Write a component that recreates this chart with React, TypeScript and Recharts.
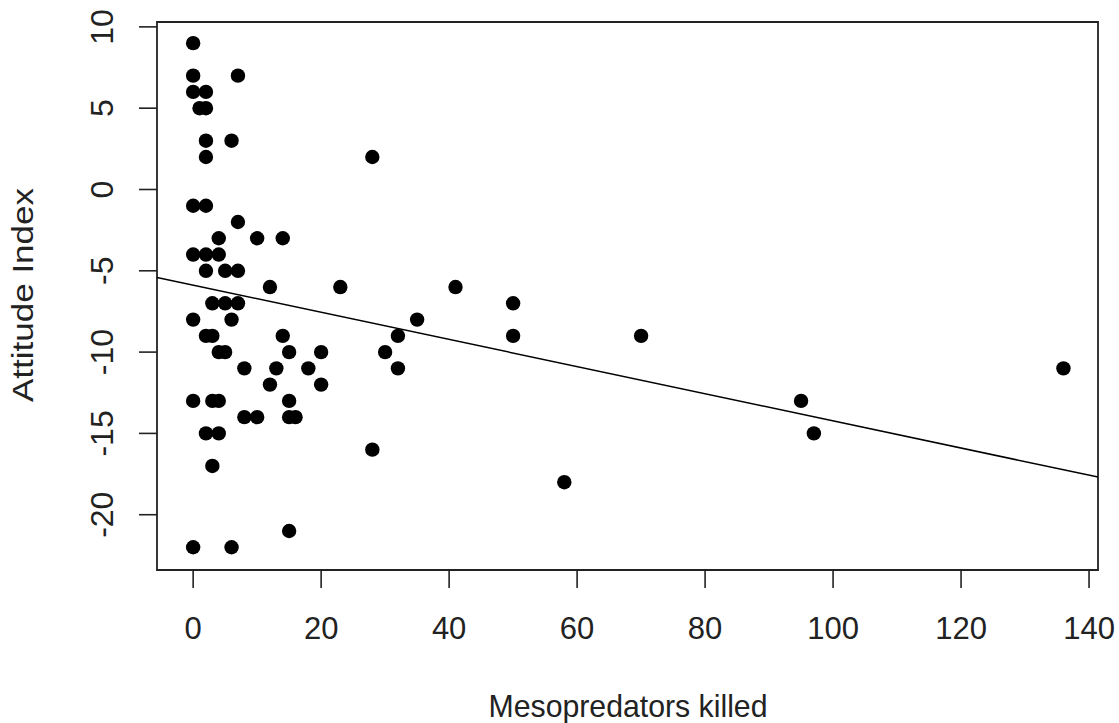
import React from "react";
import {
  ScatterChart,
  Scatter,
  XAxis,
  YAxis,
  ReferenceLine,
  ReferenceArea,
} from "recharts";

// Mesopredators killed (x) and Attitude Index (y)
const killed: number[] = [
  0, 0, 7, 0, 2, 1, 2, 2, 6, 2, 0, 2, 7, 4, 10, 14, 0, 2, 4, 2, 5, 7, 12, 23,
  3, 5, 7, 0, 6, 2, 3, 14, 4, 5, 15, 20, 8, 13, 18, 12, 20, 0, 3, 4, 15, 8, 10,
  15, 16, 2, 4, 3, 15, 0, 6, 28, 35, 32, 30, 32, 28, 41, 50, 50, 58, 70, 95, 97,
  136,
];
const attitude: number[] = [
  9, 7, 7, 6, 6, 5, 5, 3, 3, 2, -1, -1, -2, -3, -3, -3, -4, -4, -4, -5, -5, -5,
  -6, -6, -7, -7, -7, -8, -8, -9, -9, -9, -10, -10, -10, -10, -11, -11, -11,
  -12, -12, -13, -13, -13, -13, -14, -14, -14, -14, -15, -15, -17, -21, -22,
  -22, 2, -8, -9, -10, -11, -16, -6, -7, -9, -18, -9, -13, -15, -11,
];

const xTicks: number[] = [0, 20, 40, 60, 80, 100, 120, 140];
const yTicks: number[] = [-20, -15, -10, -5, 0, 5, 10];

// fitted regression line
const fitIntercept = -5.88;
const fitSlope = -0.0835;

const xDomain: [number, number] = [-5.65, 141.4];
const yDomain: [number, number] = [-23.4, 10.3];

const points = killed.map((k, i) => ({ x: k, y: attitude[i] }));

const FONT = "'Liberation Sans', Arial, sans-serif";
const INK = "#222";

const XTick = (props: any) => {
  const { x, y, payload } = props;
  return (
    <g>
      <line x1={x} y1={y} x2={x} y2={y + 18} stroke={INK} strokeWidth={1.6} />
      <text
        x={x}
        y={y + 69}
        textAnchor="middle"
        fontSize={31}
        fontFamily={FONT}
        fill={INK}
      >
        {payload.value}
      </text>
    </g>
  );
};

const YTick = (props: any) => {
  const { x, y, payload } = props;
  const bx = x - 44;
  return (
    <g>
      <line x1={x} y1={y} x2={x - 18} y2={y} stroke={INK} strokeWidth={1.6} />
      <text
        x={bx}
        y={y}
        transform={`rotate(-90, ${bx}, ${y})`}
        textAnchor="middle"
        fontSize={32}
        fontFamily={FONT}
        fill={INK}
      >
        {payload.value}
      </text>
    </g>
  );
};

const Dot = (props: any) => {
  const { cx, cy } = props;
  return <circle cx={cx} cy={cy} r={7.2} fill="#000" />;
};

export default function App() {
  return (
    <div style={{ position: "absolute", left: 0, top: 0, background: "#fff" }}>
      <ScatterChart
        width={1119}
        height={723}
        margin={{ top: 22, right: 21, left: 0, bottom: 0 }}
      >
        <XAxis
          type="number"
          dataKey="x"
          domain={xDomain}
          ticks={xTicks}
          allowDataOverflow
          height={153}
          axisLine={false}
          tickLine={false}
          tickSize={0}
          tickMargin={0}
          tick={<XTick />}
          interval={0}
        />
        <YAxis
          type="number"
          dataKey="y"
          domain={yDomain}
          ticks={yTicks}
          allowDataOverflow
          width={157}
          axisLine={false}
          tickLine={false}
          tickSize={0}
          tickMargin={0}
          tick={<YTick />}
          interval={0}
        />
        <ReferenceArea
          x1={xDomain[0]}
          x2={xDomain[1]}
          y1={yDomain[0]}
          y2={yDomain[1]}
          fill="none"
          fillOpacity={0}
          stroke={INK}
          strokeWidth={1.8}
          ifOverflow="visible"
        />
        <ReferenceLine
          segment={[
            { x: xDomain[0], y: fitIntercept + fitSlope * xDomain[0] },
            { x: xDomain[1], y: fitIntercept + fitSlope * xDomain[1] },
          ]}
          stroke="#000"
          strokeWidth={1.5}
          ifOverflow="visible"
        />
        <Scatter
          data={points}
          shape={<Dot />}
          isAnimationActive={false}
        />
        <text
          x={628}
          y={717}
          textAnchor="middle"
          fontSize={32}
          fontFamily={FONT}
          fill={INK}
          textLength={279}
          lengthAdjust="spacingAndGlyphs"
        >
          Mesopredators killed
        </text>
        <text
          x={33}
          y={295}
          transform="rotate(-90, 33, 295)"
          textAnchor="middle"
          fontSize={30}
          fontFamily={FONT}
          fill={INK}
          textLength={214}
          lengthAdjust="spacingAndGlyphs"
        >
          Attitude Index
        </text>
      </ScatterChart>
    </div>
  );
}
